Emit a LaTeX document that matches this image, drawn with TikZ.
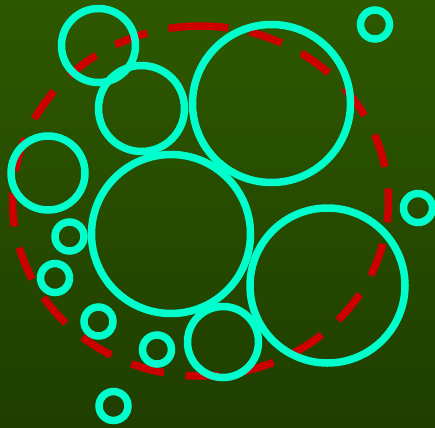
\documentclass[tikz,border=0pt]{standalone}
\usepackage{tikz}
\usepackage{xcolor}
\definecolor{bgtop}{HTML}{2E5800}
\definecolor{bgbottom}{HTML}{1F3E00}
\definecolor{ring}{HTML}{00FFCC}
\definecolor{orbit}{HTML}{CC0000}

\tikzset{
  bubble/.style={draw=ring, line width=0.15cm},
  orbitline/.style={draw=orbit, line width=0.15cm,
    dash pattern=on 0.68cm off 0.435cm, dash phase=0.12cm}
}

\begin{document}
\begin{tikzpicture}[x=0.02cm, y=0.02cm]
  % background
  \shade[top color=bgtop, bottom color=bgbottom] (0,0) rectangle (435,427);
  \useasboundingbox (0,0) rectangle (435,427);

  % dashed orbit
  \coordinate (orbittop) at (200.5,401);
  \draw[orbitline] (orbittop) arc[start angle=90, end angle=-270, x radius=188, y radius=175];

  % bubbles: x/y/radius
  \foreach \cx/\cy/\r in {98.5/381.5/37, 141.5/318.5/43, 271.5/323.5/79,
                          48/254/37, 171/193/79.5, 327.5/141.5/77.5,
                          223/85/35.5,
                          69.5/190.5/14.5, 55/149/14.5, 98.5/105.5/14.5,
                          157/77.5/14.5, 113.5/21/14.5, 375/402.5/14.5,
                          418/219/14.5}
    \draw[bubble] (\cx,\cy) circle[radius=\r];
\end{tikzpicture}
\end{document}
